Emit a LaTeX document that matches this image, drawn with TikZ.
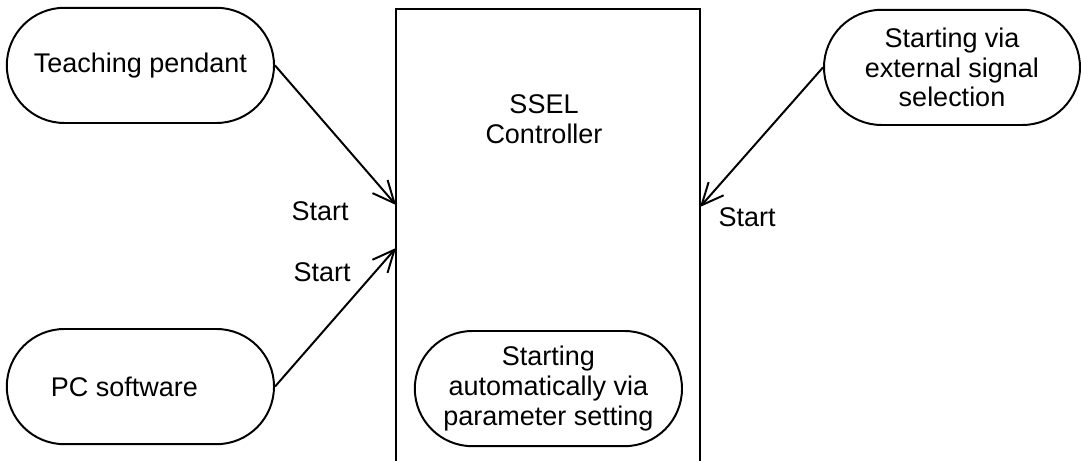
\documentclass[tikz,border=0pt]{standalone}
\usepackage{fontspec}
\setmainfont{Liberation Sans}
\usetikzlibrary{arrows.meta}

\begin{document}
\begin{tikzpicture}[
  every node/.style={font=\fontsize{19.2}{21.3}\selectfont, align=center},
  pill/.style={draw, line width=1.4pt, rounded corners=1.44cm, minimum width=6.68cm, minimum height=2.88cm, inner sep=0pt},
  flow/.style={line width=1.4pt, -{Straight Barb[length=5.5mm, width=5mm]}}
]
\useasboundingbox (0,0) rectangle (27.025,11.525);
% controller box, open at the bottom
\draw[line width=1.4pt] (9.9,0) |- (17.5,11.3) -- (17.5,0);
\node (ctrl) at (13.6,8.55) {SSEL\\Controller};
\coordinate (tpIn) at (9.9,6.4);
\coordinate (pcIn) at (9.9,5.325);
\coordinate (extIn) at (17.5,6.35);

\node[pill] (tp) at (3.51,9.89) {Teaching pendant};
\node[pill] (pc) at (3.51,1.86) {PC software\hspace*{0.8cm}};
\node[pill, minimum width=6.4cm] (ext) at (23.8,9.84) {Starting via\\external signal\\selection};
\node[pill] (auto) at (13.71,1.81) {Starting\\automatically via\\parameter setting};

\draw[flow] (tp.east) -- (tpIn);
\draw[flow] (pc.east) -- (pcIn);
\draw[flow] (ext.west) -- (extIn);

\node (tpStart) at (8.0,6.25) {Start};
\node (pcStart) at (8.05,4.725) {Start};
\node (extStart) at (18.68,6.1) {Start};
\end{tikzpicture}
\end{document}
